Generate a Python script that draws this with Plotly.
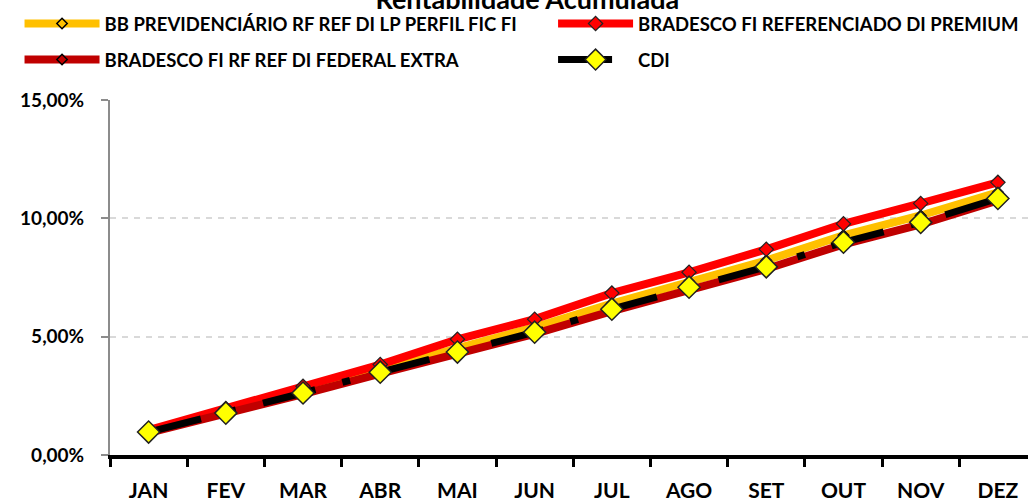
import plotly.graph_objects as go

# dados
meses = ["JAN", "FEV", "MAR", "ABR", "MAI", "JUN", "JUL", "AGO", "SET", "OUT", "NOV", "DEZ"]
bb_prev = [0.98, 1.82, 2.70, 3.62, 4.52, 5.40, 6.40, 7.33, 8.22, 9.28, 10.12, 11.10]
brad_premium = [1.05, 1.97, 2.90, 3.82, 4.89, 5.74, 6.84, 7.72, 8.69, 9.77, 10.63, 11.52]
brad_federal = [0.94, 1.73, 2.57, 3.44, 4.28, 5.12, 6.08, 6.99, 7.86, 8.90, 9.74, 10.76]
cdi = [0.97, 1.77, 2.62, 3.50, 4.35, 5.19, 6.16, 7.09, 7.95, 8.99, 9.83, 10.84]

FONT = "Lato"


def pct(vals):
  return [v / 100 for v in vals]


fig = go.Figure()

fig.add_trace(go.Scatter(
  x=meses, y=pct(bb_prev), name="BB PREVIDENCIÁRIO RF REF DI LP PERFIL FIC FI",
  mode="lines+markers", line=dict(color="#FFC000", width=8),
  marker=dict(symbol="diamond", size=8, color="#FFC000", line=dict(color="black", width=1.5)),
  legend="legend", showlegend=True))

fig.add_trace(go.Scatter(
  x=meses, y=pct(brad_premium), name="BRADESCO FI REFERENCIADO DI PREMIUM",
  mode="lines+markers", line=dict(color="#FF0000", width=8),
  marker=dict(symbol="diamond", size=11, color="#FF0000", line=dict(color="#222222", width=1.2)),
  legend="legend2", showlegend=True))

fig.add_trace(go.Scatter(
  x=meses, y=pct(brad_federal), name="BRADESCO FI RF REF DI FEDERAL EXTRA",
  mode="lines+markers", line=dict(color="#C00000", width=8),
  marker=dict(symbol="diamond", size=8, color="#C00000", line=dict(color="black", width=1.5)),
  legend="legend3", showlegend=True))

fig.add_trace(go.Scatter(
  x=meses, y=pct(cdi), name="CDI",
  mode="lines+markers", line=dict(color="black", width=7, dash="54px,28px,8px,28px"),
  marker=dict(symbol="diamond", size=17, color="#FFFF00", line=dict(color="#222222", width=1.5)),
  legend="legend4", showlegend=True))

leg_common = dict(
  xref="container", yref="container", xanchor="left", yanchor="middle", itemwidth=75,
  font=dict(family=FONT, size=18.5, color="black", weight="bold"),
  bgcolor="rgba(0,0,0,0)", itemclick=False)

fig.update_layout(
  width=1028, height=501,
  showlegend=True,
  margin=dict(l=110, r=0, t=100, b=46, autoexpand=False),
  paper_bgcolor="white", plot_bgcolor="white",
  separators=",.",
  title=dict(text="<b>Rentabilidade Acumulada</b>", x=0.513, xref="container", xanchor="center",
             y=1 - 9 / 501, yref="container", yanchor="bottom",
             font=dict(family=FONT, size=27, color="black")),
  legend=dict(**leg_common, x=0.019, y=1 - 24 / 501),
  legend2=dict(**leg_common, x=0.538, y=1 - 24 / 501),
  legend3=dict(**leg_common, x=0.019, y=1 - 60 / 501),
  legend4=dict(**leg_common, x=0.538, y=1 - 60 / 501),
  xaxis=dict(
    type="category", range=[-0.5, 11.39], tickson="boundaries",
    showline=True, linecolor="black", linewidth=4,
    ticks="outside", ticklen=8, tickwidth=3, tickcolor="black",
    showgrid=False, ticklabelstandoff=14,
    tickfont=dict(family=FONT, size=21, color="black", weight="bold")),
  yaxis=dict(
    range=[0, 0.15], tickvals=[0, 0.05, 0.10, 0.15], tickformat=".2%",
    showline=True, linecolor="#8C8C8C", linewidth=2,
    ticks="outside", ticklen=7, tickwidth=2, tickcolor="#8C8C8C",
    showgrid=True, gridcolor="#D9D9D9", gridwidth=1.5, griddash="6px,6px",
    zeroline=False, ticklabelstandoff=13,
    tickfont=dict(family=FONT, size=19, color="black", weight="bold")),
)

# sem a margem padrão do <body>, o gráfico ocupa a janela inteira
fig.write_html("out.html", config={"displayModeBar": False},
               post_script="document.body.style.margin='0';")
